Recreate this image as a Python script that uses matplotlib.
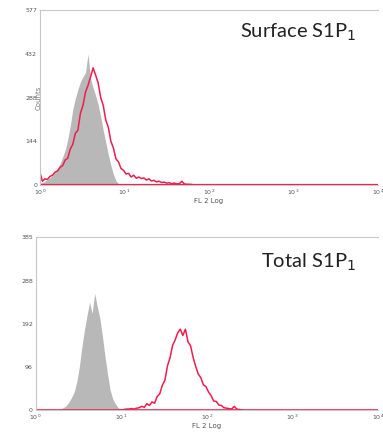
import numpy as np
import matplotlib
matplotlib.use("Agg")
import matplotlib.pyplot as plt

# --- data (channel position in decades, counts) ---
step = 0.03

top_grey_start = 0.0
top_grey = [5, 8, 12, 18, 24, 32, 42, 55, 70, 92, 115, 150, 195, 250, 285, 315,
            340, 356, 370, 432, 350, 320, 295, 265, 225, 180, 140, 100, 65, 35,
            14, 4, 0]

top_red_start = 0.0
top_red = [43, 12, 20, 18, 28, 32, 42, 46, 58, 64, 82, 88, 118, 134, 170, 180,
           236, 262, 306, 328, 356, 386, 362, 336, 288, 262, 214, 190, 144, 122,
           86, 76, 54, 48, 36, 38, 26, 32, 22, 26, 21, 23, 16, 20, 13, 15, 10,
           12, 8, 9, 6, 7, 4, 6, 3, 4, 12, 3, 2, 2, 1, 0]

bot_grey_start = 0.27
bot_grey = [0, 3, 6, 10, 18, 28, 40, 62, 95, 140, 178, 210, 240, 215, 260, 230,
            205, 165, 120, 80, 45, 25, 14, 6, 2, 0]

bot_red_start = 1.0
bot_red = [0, 1, 2, 2, 3, 2, 4, 5, 8, 6, 14, 10, 18, 15, 30, 36, 55, 66, 98,
           116, 144, 156, 172, 180, 166, 180, 152, 143, 117, 97, 80, 72, 56, 52,
           40, 32, 20, 19, 11, 10, 5, 4, 3, 2, 8, 2, 1, 0]

x_ticks = [1, 10, 100, 1000, 10000]
x_tick_labels = [r"$10^{0}$", r"$10^{1}$", r"$10^{2}$", r"$10^{3}$", r"$10^{4}$"]
top_yticks = [0, 144, 288, 432, 577]
bot_yticks = [0, 96, 192, 288, 385]

red = "#ef1c4c"
grey = "#b8b8b8"


def channels(start, counts):
    return 10 ** (start + step * np.arange(len(counts)))


def style_axes(ax, yticks):
    ax.set_xscale("log")
    ax.set_xlim(1, 10000)
    ax.set_ylim(0, yticks[-1])
    ax.set_xticks(x_ticks)
    ax.set_xticklabels(x_tick_labels)
    ax.minorticks_off()
    ax.set_yticks(yticks)
    ax.set_yticklabels([str(v) for v in yticks])
    ax.tick_params(labelsize=4.5, colors="#555555", length=0, pad=2)
    for side in ["left", "bottom", "top"]:
        ax.spines[side].set_color("#c8c8c8")
        ax.spines[side].set_linewidth(0.8)
    ax.spines["right"].set_visible(False)
    ax.set_xlabel("FL 2 Log", fontsize=5, color="#555555", labelpad=1)


fig = plt.figure(figsize=(3.83, 4.32), dpi=100)
ax1 = fig.add_axes([0.104, 0.572, 0.883, 0.405])
ax2 = fig.add_axes([0.093, 0.051, 0.894, 0.400])

# top: surface
ax1.fill_between(channels(top_grey_start, top_grey), top_grey,
                 color=grey, linewidth=0)
ax1.plot(channels(top_red_start, top_red), top_red, color=red, linewidth=1.1)
ax1.axhline(0, color=red, linewidth=1.6)
style_axes(ax1, top_yticks)
ax1.set_ylabel("Counts", fontsize=5, color="#777777", labelpad=-12)
ax1.text(0.935, 0.87, r"Surface S1P$_1$", transform=ax1.transAxes,
         ha="right", va="center", fontsize=14.5, family="Lato", color="#222222")

# bottom: total
ax2.fill_between(channels(bot_grey_start, bot_grey), bot_grey,
                 color=grey, linewidth=0)
ax2.plot(channels(bot_red_start, bot_red), bot_red, color=red, linewidth=1.1)
ax2.axhline(0, color=red, linewidth=1.2)
style_axes(ax2, bot_yticks)
ax2.text(0.935, 0.855, r"Total S1P$_1$", transform=ax2.transAxes,
         ha="right", va="center", fontsize=14.5, family="Lato", color="#222222")

fig.savefig("out.png", dpi=100)
